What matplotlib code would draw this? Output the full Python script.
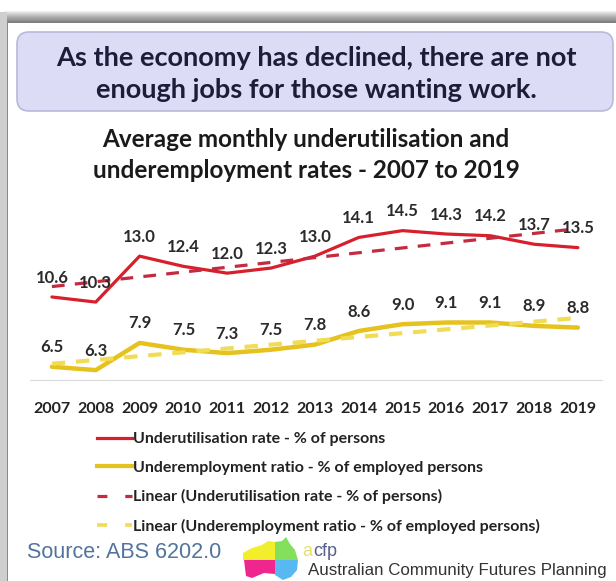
import numpy as np
import matplotlib
matplotlib.use('Agg')
import matplotlib.pyplot as plt
from matplotlib.patches import FancyBboxPatch, Rectangle, Polygon
from matplotlib.lines import Line2D

years = [2007, 2008, 2009, 2010, 2011, 2012, 2013, 2014, 2015, 2016, 2017, 2018, 2019]
underutilisation = [10.6, 10.3, 13.0, 12.4, 12.0, 12.3, 13.0, 14.1, 14.5, 14.3, 14.2, 13.7, 13.5]
underemployment = [6.5, 6.3, 7.9, 7.5, 7.3, 7.5, 7.8, 8.6, 9.0, 9.1, 9.1, 8.9, 8.8]

series_names = ['Underutilisation rate - % of persons',
                'Underemployment ratio - % of employed persons',
                'Linear (Underutilisation rate - % of persons)',
                'Linear (Underemployment ratio - % of employed persons)']

headline = 'As the economy has declined, there are not\nenough jobs for those wanting work.'
chart_title = 'Average monthly underutilisation and\nunderemployment rates - 2007 to 2019'
source = 'Source: ABS 6202.0'

RED = '#d7202b'
RED_TREND = '#c42a40'
YEL = '#e6c21e'
YEL_TREND = '#f0dc55'

W, H = 616, 581
fig = plt.figure(figsize=(W / 100, H / 100), dpi=100)
fig.patch.set_facecolor('white')

# background canvas in pixel coords
bg = fig.add_axes([0, 0, 1, 1])
bg.set_xlim(0, W)
bg.set_ylim(H, 0)
bg.axis('off')

# frame decoration (gray top band + left bar)
for i, c in enumerate(['#eeeeee', '#e2e2e2', '#d6d6d6', '#cacaca', '#bebebe', '#b2b2b2',
                       '#a8a8a8', '#a0a0a0', '#9a9a9a', '#8e8e8e', '#868686', '#7c7c7c']):
    bg.add_patch(Rectangle((4, 11 + i), W - 4, 1, color=c, lw=0))
bg.add_patch(Rectangle((0, 12), 7, H - 12, color='#cfcfcf', lw=0))
bg.add_patch(Rectangle((6.5, 22), 1.5, H - 22, color='#8a8a8a', lw=0))

# headline box
bg.add_patch(FancyBboxPatch((17, 32), 596, 79, boxstyle='round,pad=0,rounding_size=12',
                            facecolor='#dcdcf7', edgecolor='#b9b9d9', lw=1.2))
bg.text(316, 74, headline, ha='center', va='center', fontsize=19.5, fontweight='bold',
        family='Lato', color='#1d1d3a', linespacing=1.35)
bg.text(306, 155, chart_title, ha='center', va='center', fontsize=17.5, fontweight='bold',
        family='Lato', color='#1a1a1a', linespacing=1.4)

# chart
ax = fig.add_axes([30 / W, 1 - 380 / H, 572 / W, 180 / H])
ax.set_xlim(2006.5, 2019.55)
ax.set_ylim(5.72, 16.3)
ax.patch.set_alpha(0)
for s in ['top', 'right', 'left']:
    ax.spines[s].set_visible(False)
ax.spines['bottom'].set_color('#dadada')
ax.spines['bottom'].set_linewidth(0.8)
ax.set_yticks([])
ax.set_xticks(years)
ax.set_xticklabels([str(y) for y in years], fontsize=11.5, fontweight='bold',
                   family='Lato', color='#222222')
ax.tick_params(axis='x', length=0, pad=16)

x = np.array(years, dtype=float)
u = np.array(underutilisation)
e = np.array(underemployment)
tu = np.polyval(np.polyfit(x, u, 1), x)
te = np.polyval(np.polyfit(x, e, 1), x)

ax.plot(x, u, color=RED, lw=2.3, solid_capstyle='round', zorder=3)
ax.plot(x, e, color=YEL, lw=3.2, solid_capstyle='round', zorder=3)
ax.plot(x, tu, color=RED_TREND, lw=2.3, dashes=(4, 3.2), zorder=4)
ax.plot(x, te, color=YEL_TREND, lw=3.0, dashes=(3.2, 2.6), zorder=4)

for xi, v in zip(years, underutilisation):
    ax.annotate(f'{v:.1f}', (xi, v), xytext=(0, 14), textcoords='offset points',
                ha='center', va='center', fontsize=12, fontweight='bold',
                family='Lato', color='#2a2a2a', zorder=5)
for xi, v in zip(years, underemployment):
    ax.annotate(f'{v:.1f}', (xi, v), xytext=(0, 14), textcoords='offset points',
                ha='center', va='center', fontsize=12, fontweight='bold',
                family='Lato', color='#2a2a2a', zorder=5)

handles = [Line2D([], [], color=RED, lw=2.3),
           Line2D([], [], color=YEL, lw=3.0),
           Line2D([], [], color=RED_TREND, lw=2.3, dashes=(3.1, 5.6)),
           Line2D([], [], color=YEL_TREND, lw=2.6, dashes=(2.8, 5.0))]
fig.legend(handles, series_names, loc='upper left', bbox_to_anchor=(97 / W, 1 - 432 / H),
           frameon=False, borderpad=0, borderaxespad=0, handlelength=2.2,
           handletextpad=0.05, labelspacing=0.9,
           prop={'family': 'Lato', 'weight': 'bold', 'size': 11.5}, labelcolor='#222222')

# footer
bg.text(27, 552, source, ha='left', va='center', fontsize=15.5, family='Liberation Sans',
        color='#52739e')

# logo (rough Australia split in four colours)
bg.add_patch(Polygon([(243, 553), (252, 548), (262, 545), (268, 541), (275, 542), (275, 560),
                      (243, 560)], color='#f3ee2c', lw=0))
bg.add_patch(Polygon([(275, 542), (282, 541), (286, 537), (290, 544), (295, 550), (298, 560),
                      (275, 560)], color='#84e05c', lw=0))
bg.add_patch(Polygon([(244, 560), (275, 560), (275, 574), (264, 573), (252, 578), (246, 576)],
                     color='#f0268f', lw=0))
bg.add_patch(Polygon([(275, 560), (298, 560), (297, 570), (291, 577), (283, 580), (275, 575)],
                     color='#58b8f2', lw=0))
bg.text(302, 552, 'a', ha='left', va='center', fontsize=13, family='Liberation Sans',
        color='#e6df70')
bg.text(313, 552, 'cfp', ha='left', va='center', fontsize=13, family='Liberation Sans',
        color='#56608a')
bg.text(308, 570, 'Australian Community Futures Planning', ha='left', va='center',
        fontsize=12.2, family='Liberation Sans', color='#333333')

fig.savefig('out.png', dpi=100, facecolor='white')
